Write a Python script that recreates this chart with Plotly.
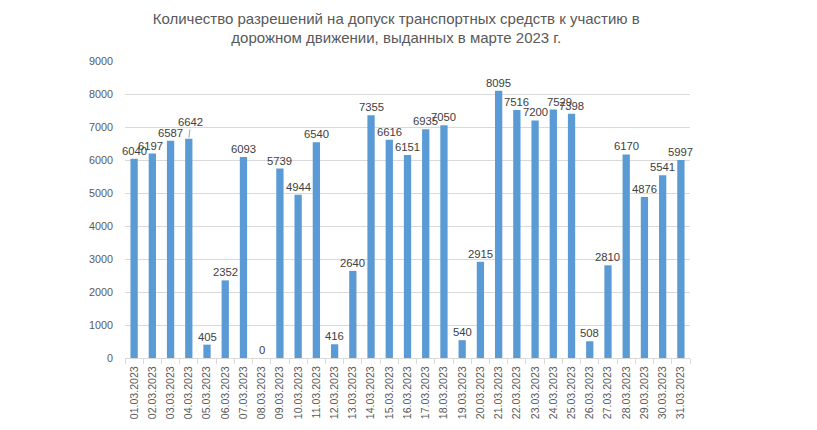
import plotly.graph_objects as go

dates = [f"{d:02d}.03.2023" for d in range(1, 32)]
values = [6040, 6197, 6587, 6642, 405, 2352, 6093, 0, 5739, 4944, 6540, 416, 2640, 7355, 6616,
          6151, 6935, 7050, 540, 2915, 8095, 7516, 7200, 7529, 7398, 508, 2810, 6170, 4876, 5541, 5997]
y_ticks = list(range(0, 10000, 1000))

FONT = "'Liberation Sans', Arial, sans-serif"

# label nudges (pixels) for labels that the original moved to avoid overlap
label_nudge = {3: (2, -17), 23: (6, 0), 1: (-2, 0)}

fig = go.Figure(go.Bar(
    x=dates, y=values,
    marker=dict(color="#5B9BD5", line=dict(width=0)),
    hoverinfo="x+y",
))

annotations = []
for i, (d, v) in enumerate(zip(dates, values)):
    dx, dy = label_nudge.get(i, (0, 0))
    if dy != 0:
        annotations.append(dict(
            x=d, y=v, xref="x", yref="y", text=str(v),
            showarrow=True, arrowhead=0, arrowwidth=1, arrowcolor="#a6a6a6",
            ax=dx, ay=dy, standoff=1,
            font=dict(size=11.3, color="#404040", family=FONT),
        ))
    else:
        annotations.append(dict(
            x=d, y=v, xref="x", yref="y", text=str(v),
            showarrow=False, yanchor="bottom", xanchor="center",
            xshift=dx, yshift=0,
            font=dict(size=11.3, color="#404040", family=FONT),
        ))

fig.update_layout(
    width=817, height=430,
    margin=dict(l=125, r=127, t=61, b=72),
    paper_bgcolor="white", plot_bgcolor="white",
    bargap=0.6,
    showlegend=False,
    annotations=annotations,
    title=dict(
        text="Количество разрешений на допуск транспортных средств к участию в<br>дорожном движении, выданных в марте 2023 г.",
        x=0.485, xanchor="center", y=1 - 23.5 / 430, yanchor="middle",
        font=dict(size=15, color="#595959", family=FONT),
    ),
    font=dict(family=FONT),
)
fig.update_xaxes(
    type="category",
    range=[-0.5, len(dates) - 0.5],
    autorange=False,
    tickangle=-90,
    tickfont=dict(size=10.6, color="#595959", family=FONT),
    showline=True, linecolor="#d9d9d9", linewidth=1,
    ticks="outside", tickson="boundaries", ticklen=5, tickcolor="#d9d9d9",
    showgrid=False,
    ticklabelstandoff=3,
    automargin=False,
)
fig.update_yaxes(
    range=[0, 9000],
    tickvals=y_ticks,
    tickfont=dict(size=10.8, color="#595959", family=FONT),
    showgrid=True, gridcolor="#d9d9d9", gridwidth=1,
    zeroline=False, showline=False,
    ticks="", ticklabelstandoff=11,
    automargin=False,
)

fig.write_html("out.html")
